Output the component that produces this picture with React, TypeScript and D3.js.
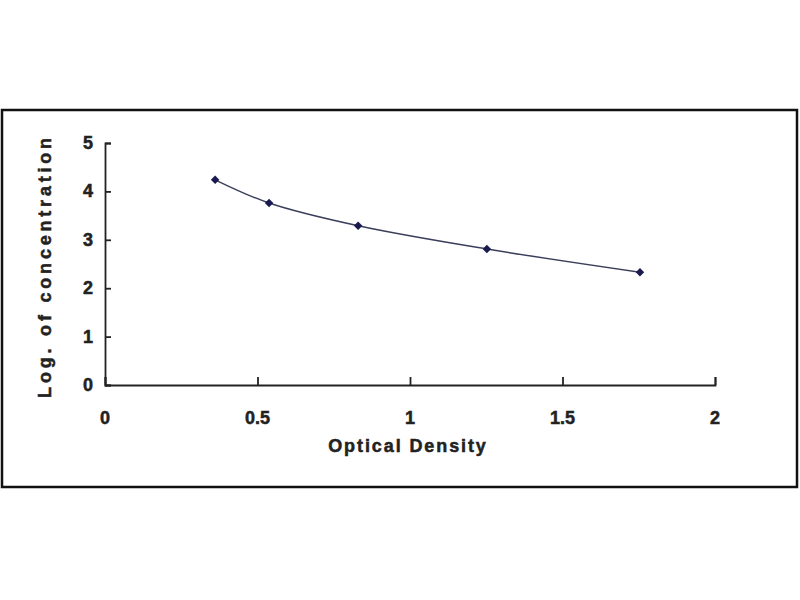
import { useEffect, useRef } from "react";
import * as d3 from "d3";

// standard curve points
const opticalDensity = [0.361, 0.538, 0.83, 1.252, 1.754];
const logConcentration = [4.24, 3.76, 3.29, 2.81, 2.33];
const xTicks = [0, 0.5, 1, 1.5, 2];
const yTicks = [0, 1, 2, 3, 4, 5];

const W = 800;
const H = 600;

export default function App() {
  const svgRef = useRef<SVGSVGElement>(null);

  useEffect(() => {
    if (!svgRef.current) return;
    const svg = d3.select(svgRef.current);
    svg.selectAll("*").remove();

    const font = "'Liberation Sans', Arial, sans-serif";
    const ink = "#222";

    // outer frame
    svg
      .append("rect")
      .attr("x", 2)
      .attr("y", 110)
      .attr("width", 795)
      .attr("height", 377)
      .attr("fill", "#fff")
      .attr("stroke", "#111")
      .attr("stroke-width", 2.5);

    const x = d3.scaleLinear().domain([0, 2]).range([105, 715]);
    const y = d3.scaleLinear().domain([0, 5]).range([385, 143]);

    // Y axis (ticks point inward)
    svg
      .append("g")
      .attr("transform", `translate(${x(0)},0)`)
      .call(d3.axisRight(y).tickValues(yTicks).tickSize(6).tickSizeOuter(6).tickFormat(() => ""))
      .call((g) => g.selectAll("path,line").attr("stroke", ink).attr("stroke-width", 1.8));

    // X axis (ticks point inward)
    svg
      .append("g")
      .attr("transform", `translate(0,${y(0)})`)
      .call(d3.axisTop(x).tickValues(xTicks).tickSize(8).tickSizeOuter(8).tickFormat(() => ""))
      .call((g) => g.selectAll("path,line").attr("stroke", ink).attr("stroke-width", 1.8));

    const styleText = (sel: d3.Selection<any, any, any, any>) =>
      sel
        .style("font-family", font)
        .style("font-weight", "bold")
        .style("font-size", "18px")
        .style("fill", ink)
        .style("stroke", ink)
        .style("stroke-width", "0.5px");

    // tick labels
    svg
      .append("g")
      .selectAll("text")
      .data(yTicks)
      .join("text")
      .attr("x", 93)
      .attr("y", (d) => y(d) + 6)
      .attr("text-anchor", "end")
      .call(styleText)
      .text((d) => d);

    svg
      .append("g")
      .selectAll("text")
      .data(xTicks)
      .join("text")
      .attr("x", (d) => x(d))
      .attr("y", 424)
      .attr("text-anchor", "middle")
      .call(styleText)
      .text((d) => d);

    // axis titles
    svg
      .append("text")
      .attr("x", 408)
      .attr("y", 452)
      .attr("text-anchor", "middle")
      .style("letter-spacing", "1.9px")
      .call(styleText)
      .text("Optical Density");

    svg
      .append("text")
      .attr("transform", "translate(51,266) rotate(-90)")
      .attr("text-anchor", "middle")
      .style("letter-spacing", "3.8px")
      .call(styleText)
      .text("Log. of concentration");

    const pts: [number, number][] = opticalDensity.map((d, i) => [d, logConcentration[i]]);

    // fitted curve
    const line = d3
      .line<[number, number]>()
      .x((d) => x(d[0]))
      .y((d) => y(d[1]))
      .curve(d3.curveCatmullRom.alpha(0.5));

    svg
      .append("path")
      .datum(pts)
      .attr("d", line)
      .attr("fill", "none")
      .attr("stroke", "#3a3f5a")
      .attr("stroke-width", 1.4);

    // diamond markers
    svg
      .append("g")
      .selectAll("path")
      .data(pts)
      .join("path")
      .attr("transform", (d) => `translate(${x(d[0])},${y(d[1])}) rotate(45)`)
      .attr("d", d3.symbol(d3.symbolSquare, 36)()!)
      .attr("fill", "#1a1a50");
  }, []);

  return (
    <svg
      ref={svgRef}
      width={W}
      height={H}
      style={{ position: "absolute", left: 0, top: 0, background: "#fff" }}
    />
  );
}
